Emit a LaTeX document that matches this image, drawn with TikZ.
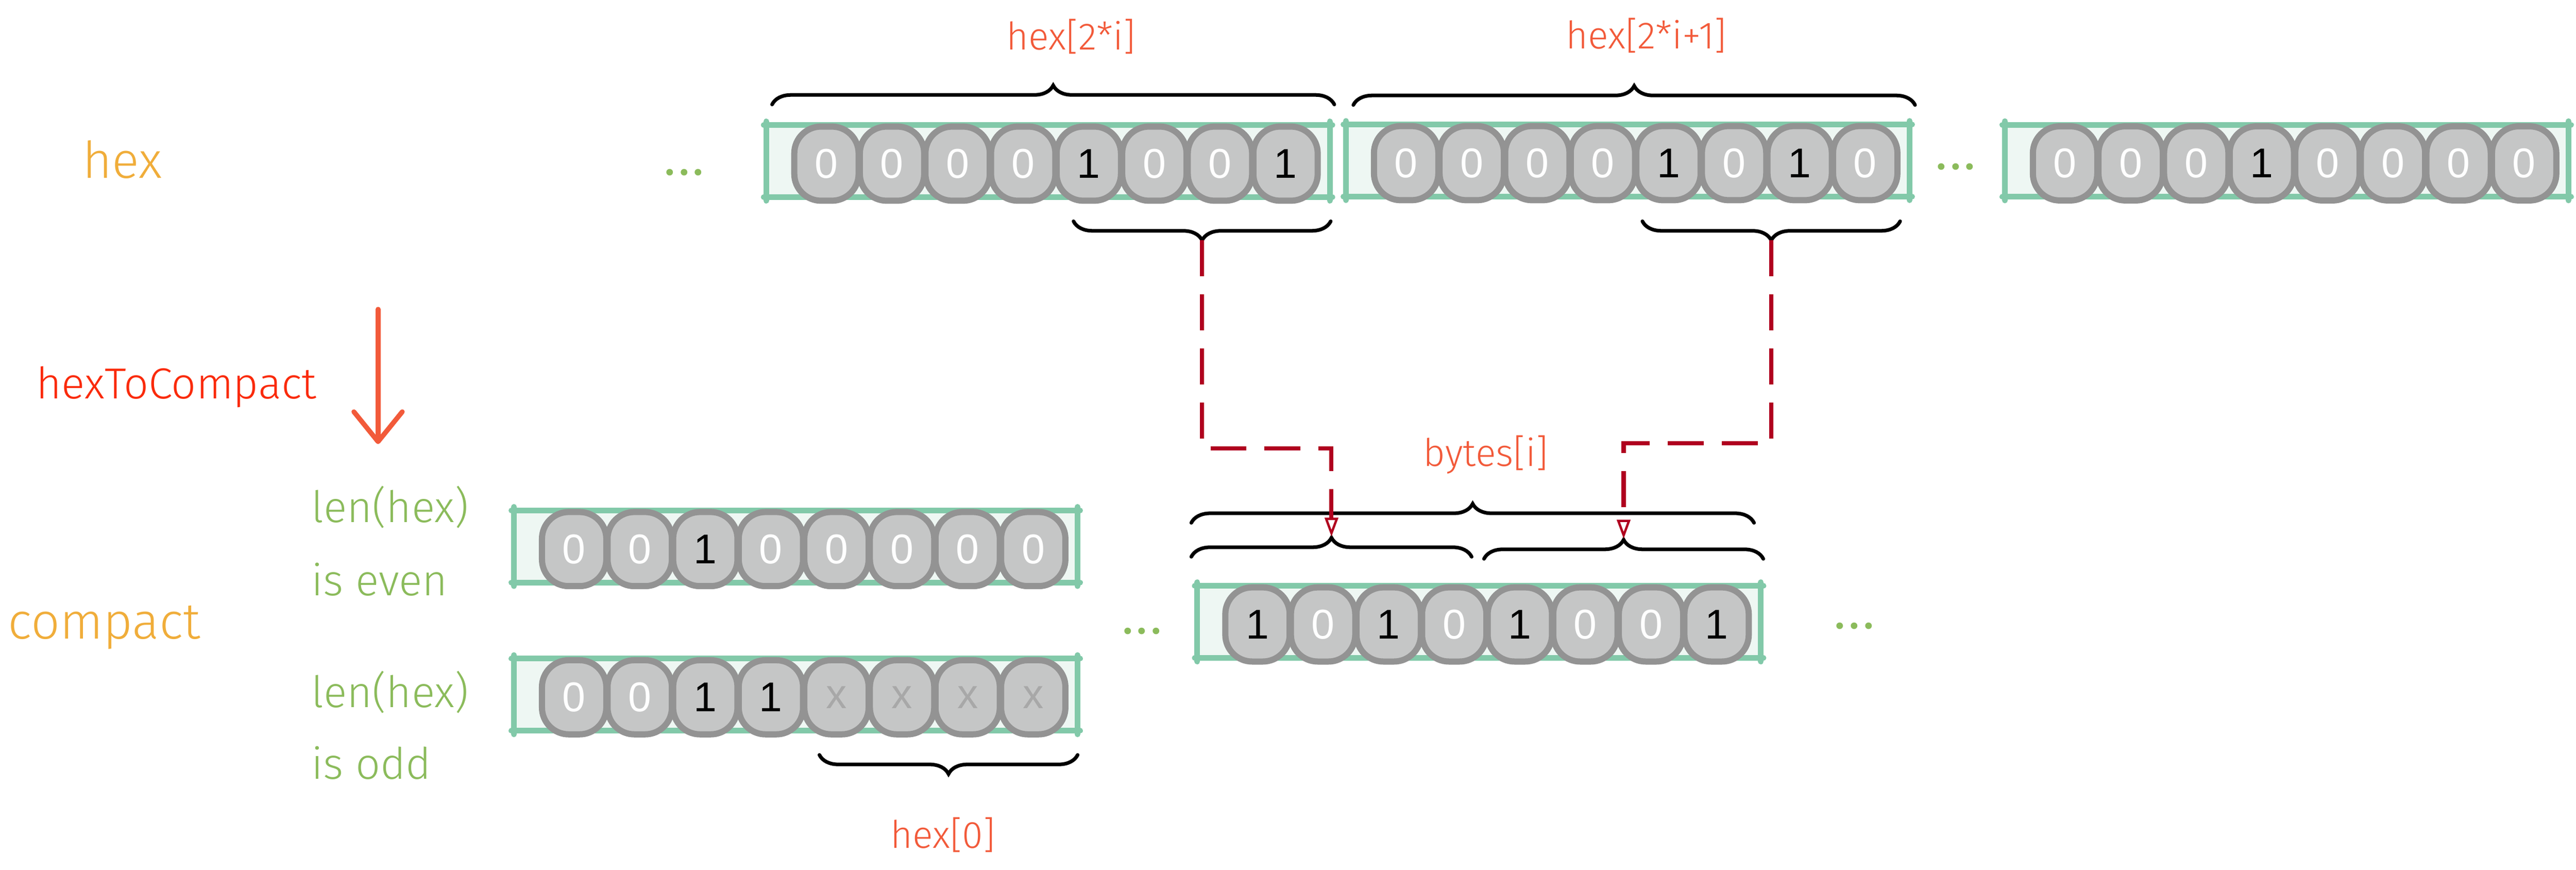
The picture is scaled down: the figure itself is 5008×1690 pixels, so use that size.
\documentclass[tikz,border=0pt]{standalone}
\usepackage{fontspec}
\setmainfont{Liberation Sans}
\newfontfamily\hand{Fira Sans Light}
\usetikzlibrary{calc,arrows.meta,decorations.pathreplacing}
\definecolor{boxgreen}{HTML}{82C9A9}
\definecolor{boxfill}{HTML}{EEF7F3}
\definecolor{cellfill}{HTML}{C5C6C6}
\definecolor{cellline}{HTML}{939393}
\definecolor{xgray}{HTML}{A8A8A8}
\definecolor{coral}{HTML}{F25A3A}
\definecolor{hotred}{HTML}{FA2A0A}
\definecolor{lblorange}{HTML}{F0AD3A}
\definecolor{lblgreen}{HTML}{8BBB5B}
\definecolor{darkred}{HTML}{B0001F}
\newcommand\digitfont{\fontsize{23}{23}\selectfont}
\begin{document}
\begin{tikzpicture}[x=0.01cm,y=-0.01cm,
  box/.style={draw=boxgreen, fill=boxfill, line width=0.11cm, minimum width=10.95cm,
    minimum height=1.40cm, inner sep=0pt, outer sep=0pt},
  boxedge/.style={draw=boxgreen, line width=0.11cm, line cap=round},
  cell/.style={draw=cellline, fill=cellfill, line width=0.12cm, rounded corners=0.52cm,
    minimum width=1.25cm, minimum height=1.44cm, inner sep=0pt, font=\digitfont},
  d0/.style={text=white}, d1/.style={text=black}, dx/.style={text=xgray},
  bracepath/.style={decorate, decoration={brace, amplitude=0.37cm}, line width=2pt, line cap=round},
  lbl/.style={text=coral, font=\hand\fontsize{21}{24}\selectfont, anchor=base, inner sep=0pt},
  biglbl/.style={text=lblorange, font=\hand\fontsize{28}{32}\selectfont, anchor=base west, inner sep=0pt},
  greenlbl/.style={text=lblgreen, font=\hand\fontsize{24}{28}\selectfont, anchor=base west, inner sep=0pt},
  redlbl/.style={text=hotred, font=\hand\fontsize{24}{28}\selectfont, anchor=base west, inner sep=0pt},
  dots/.style={text=lblgreen, font=\hand\fontsize{38}{40}\selectfont, anchor=base, inner sep=0pt},
  dashline/.style={draw=darkred, line width=2.3pt, dash pattern=on 0.7cm off 0.35cm,
    -{Triangle[open, length=0.37cm, width=0.26cm, line width=1.3pt]}},
  redarrow/.style={draw=coral, line width=2.7pt, line cap=round,
    -{Straight Barb[length=0.58cm, width=0.94cm, line cap=round, line join=round]}}
]
\useasboundingbox (0,0) rectangle (5008,1690);

% ---- boxes ----
\node[box] (B1) at (2037.5,313) {};
\node[box] (B2) at (3164.5,312) {};
\node[box] (B3) at (4445.5,312.5) {};
\node[box] (BE) at (1547,1062) {};
\node[box] (BO) at (1547,1350) {};
\node[box] (BB) at (2875.5,1208.5) {};
\foreach \b in {B1,B2,B3,BE,BO,BB} {
  \draw[boxedge] ($(\b.north west)+(-5,0)$) -- ($(\b.north east)+(5,0)$);
  \draw[boxedge] ($(\b.south west)+(-5,0)$) -- ($(\b.south east)+(5,0)$);
  \draw[boxedge] ($(\b.north west)+(0,-7)$) -- ($(\b.south west)+(0,7)$);
  \draw[boxedge] ($(\b.north east)+(0,-7)$) -- ($(\b.south east)+(0,7)$);
}

% ---- cells ----
\foreach \dig [count=\k from 0] in {0,0,0,0,1,0,0,1}
  \node[cell,d\dig] (c1-\k) at ($(B1.west)+(117+127.5*\k,5)$) {\dig};
\foreach \dig [count=\k from 0] in {0,0,0,0,1,0,1,0}
  \node[cell,d\dig] (c2-\k) at ($(B2.west)+(117+127.5*\k,5)$) {\dig};
\foreach \dig [count=\k from 0] in {0,0,0,1,0,0,0,0}
  \node[cell,d\dig] (c3-\k) at ($(B3.west)+(117+127.5*\k,5)$) {\dig};
\foreach \dig [count=\k from 0] in {0,0,1,0,0,0,0,0}
  \node[cell,d\dig] (ce-\k) at ($(BE.west)+(117+127.5*\k,5)$) {\dig};
\foreach \dig [count=\k from 0] in {0,0,1,1,x,x,x,x}
  \node[cell,d\dig] (co-\k) at ($(BO.west)+(117+127.5*\k,5)$) {\dig};
\foreach \dig [count=\k from 0] in {1,0,1,0,1,0,0,1}
  \node[cell,d\dig] (cb-\k) at ($(BB.west)+(117+127.5*\k,5)$) {\dig};

% ---- braces ----
\draw[bracepath] (1501,203) -- (2594,203);
\draw[bracepath] (2631,204) -- (3723,204);
\draw[bracepath] (2587,430) -- (2087,430);
\draw[bracepath] (3694,430) -- (3193,430);
\draw[bracepath] (2316,1016) -- (3410,1016);
\draw[bracepath] (2316,1082) -- (2861,1082);
\draw[bracepath] (2885,1086) -- (3428,1086);
\draw[bracepath] (2095,1467) -- (1593,1467);

\coordinate (t1) at (2337,467);
\coordinate (t2) at (3443.5,467);
\coordinate (bl) at (2588.5,1043);
\coordinate (br) at (3156.5,1047);
\coordinate (j1) at (2588.5,871);
\coordinate (j2) at (3156.5,861);

% ---- dashed connectors ----
\draw[dashline] (t1) |- (j1) -- (bl);
\draw[dashline] (t2) |- (j2) -- (br);

% ---- labels ----
\node[lbl] (lh2i) at (2082,97) {hex[2*i]};
\node[lbl] (lh2i1) at (3200,95) {hex[2*i+1]};
\node[lbl] (lbytes) at (2888,906) {bytes[i]};
\node[lbl] (lhex0) at (1833,1648) {hex[0]};

\node[biglbl] (lhex) at (160,346) {hex};
\node[biglbl] (lcompact) at (15,1241) {compact};
\node[redlbl] (lh2c) at (70,775) {hexToCompact};
\node[greenlbl] (len1) at (605,1015) {len(hex)};
\node[greenlbl] (even) at (605,1157) {is even};
\node[greenlbl] (len2) at (605,1375) {len(hex)};
\node[greenlbl] (odd) at (605,1514) {is odd};

\node[dots] (dots1) at (1330,340) {...};
\node[dots] (dots2) at (3802,329) {...};
\node[dots] (dots3) at (2220,1231) {...};
\node[dots] (dots4) at (3605,1221) {...};

% ---- transform arrow ----
\coordinate (a1) at (735,601);
\coordinate (a2) at (735,863);
\draw[redarrow] (a1) -- (a2);
\end{tikzpicture}
\end{document}
